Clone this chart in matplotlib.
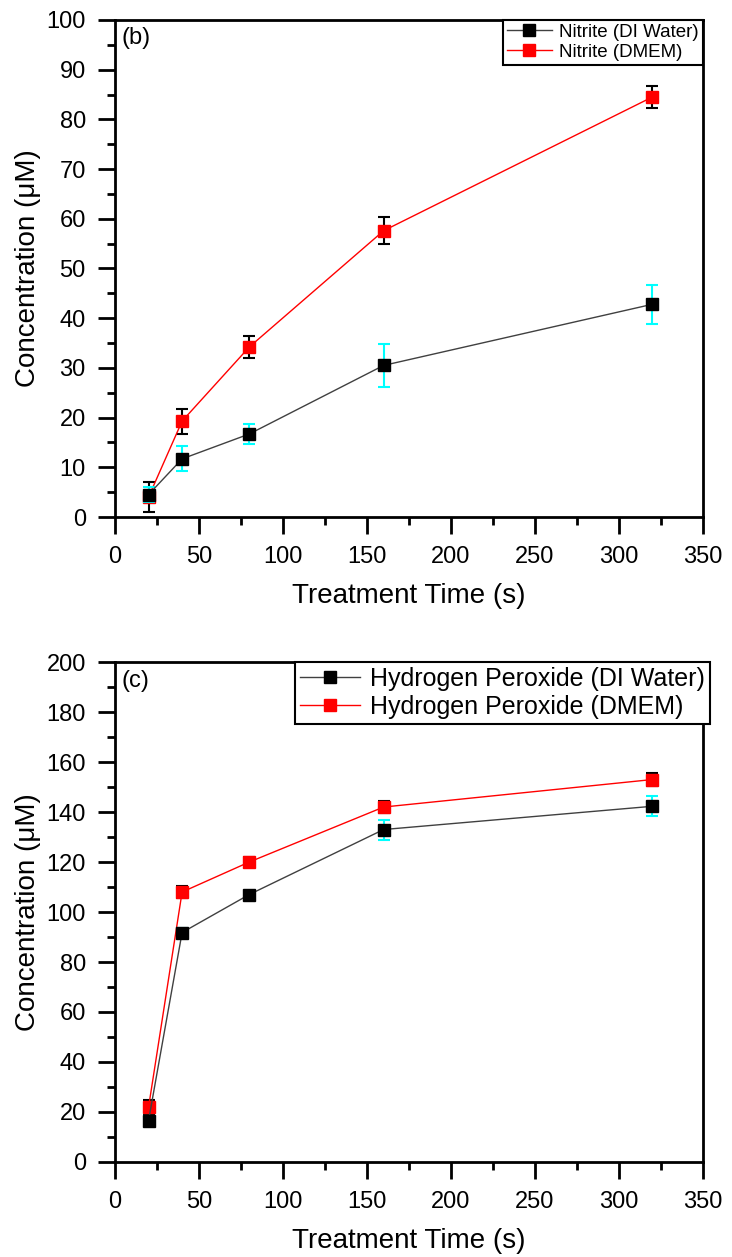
import matplotlib.pyplot as plt
from matplotlib.ticker import MultipleLocator

plt.rcParams['font.family'] = ['Liberation Sans', 'DejaVu Sans']

time_s = [20, 40, 80, 160, 320]

# panel (b) nitrite
nitrite_di = [4.5, 11.7, 16.7, 30.5, 42.8]
nitrite_di_err = [1.5, 2.5, 2.0, 4.4, 3.9]
nitrite_dmem = [4.0, 19.3, 34.2, 57.6, 84.5]
nitrite_dmem_err = [3.0, 2.5, 2.3, 2.7, 2.3]

# panel (c) hydrogen peroxide
h2o2_di = [16.5, 91.8, 107.0, 133.0, 142.3]
h2o2_di_err = [2.0, 2.0, 1.5, 4.0, 4.0]
h2o2_dmem = [21.8, 108.0, 120.0, 142.0, 153.0]
h2o2_dmem_err = [3.0, 2.5, 2.0, 2.5, 2.5]

fig = plt.figure(figsize=(7.32, 12.57), dpi=100)
ax1 = fig.add_axes([0.157, 0.5887, 0.803, 0.3954])
ax2 = fig.add_axes([0.157, 0.0756, 0.803, 0.3977])


def draw(ax, di, di_err, dmem, dmem_err, labels, ymax, ymaj, ymin, tag, leg_size, leg_anchor):
    h1 = ax.errorbar(time_s, di, yerr=di_err, color='#404040', lw=1, marker='s', ms=8,
                     mfc='black', mec='black', ecolor='cyan', elinewidth=1.5, capsize=4,
                     capthick=1.5, zorder=3)
    h2 = ax.errorbar(time_s, dmem, yerr=dmem_err, color='red', lw=1, marker='s', ms=8,
                     mfc='red', mec='red', ecolor='black', elinewidth=1.5, capsize=4,
                     capthick=1.5, zorder=2)
    ax.set_xlim(0, 350)
    ax.set_ylim(0, ymax)
    ax.xaxis.set_major_locator(MultipleLocator(50))
    ax.xaxis.set_minor_locator(MultipleLocator(25))
    ax.yaxis.set_major_locator(MultipleLocator(ymaj))
    ax.yaxis.set_minor_locator(MultipleLocator(ymin))
    ax.tick_params(which='major', direction='out', length=12, width=2, labelsize=17, pad=9)
    ax.tick_params(which='minor', direction='out', length=5.5, width=2)
    for s in ax.spines.values():
        s.set_linewidth(2)
    ax.set_xlabel('Treatment Time (s)', fontsize=20, labelpad=11)
    ax.set_ylabel('Concentration (μM)', fontsize=20, labelpad=4)
    ax.text(0.012, 0.985, tag, transform=ax.transAxes, fontsize=17, va='top', ha='left')
    leg = ax.legend([h1[0], h2[0]], labels, loc='upper right', bbox_to_anchor=leg_anchor,
                    fontsize=leg_size, fancybox=False, edgecolor='black', framealpha=1,
                    borderpad=0.2, handlelength=2.4, handletextpad=0.4, labelspacing=0.15,
                    borderaxespad=0)
    leg.get_frame().set_linewidth(1.5)


draw(ax1, nitrite_di, nitrite_di_err, nitrite_dmem, nitrite_dmem_err,
     ['Nitrite (DI Water)', 'Nitrite (DMEM)'], 100, 10, 5, '(b)', 13.5, (1.0, 1.0))
draw(ax2, h2o2_di, h2o2_di_err, h2o2_dmem, h2o2_dmem_err,
     ['Hydrogen Peroxide (DI Water)', 'Hydrogen Peroxide (DMEM)'], 200, 20, 10, '(c)', 18, (1.013, 1.0))

fig.savefig('out.png', dpi=100)
